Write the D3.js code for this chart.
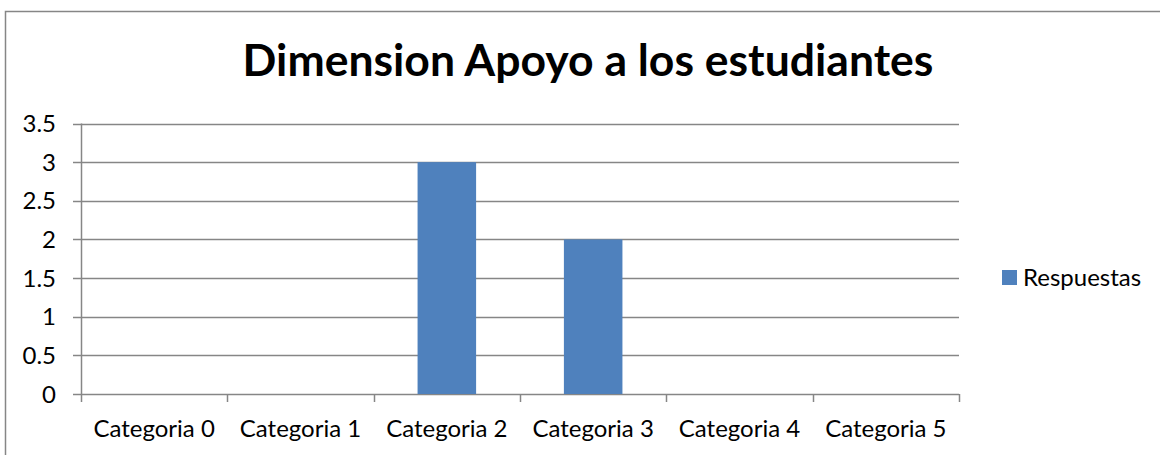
<!DOCTYPE html>
<html>
<head>
<meta charset="utf-8">
<script src="https://cdn.jsdelivr.net/npm/d3@7"></script>
<style>
  body { margin: 0; background: #fff; }
  text { font-family: Lato, "Open Sans", sans-serif; fill: #000; }
</style>
</head>
<body>
<script>
// chart data
var categories = ['Categoria 0', 'Categoria 1', 'Categoria 2', 'Categoria 3', 'Categoria 4', 'Categoria 5'];
var respuestas = [0, 0, 3, 2, 0, 0];
var yTicks = [0, 0.5, 1, 1.5, 2, 2.5, 3, 3.5];
var seriesName = 'Respuestas';

var width = 1160, height = 455;
var plot = { left: 81, right: 959, top: 123.5, bottom: 394 };
var gridColor = '#868686';
var barColor = '#4F81BD';

var svg = d3.select('body')
  .append('svg')
  .attr('width', width)
  .attr('height', height);

// outer chart border (only top and left visible in the shot)
svg.append('path')
  .attr('d', 'M5.5,' + height + 'V11.5H' + width)
  .attr('fill', 'none')
  .attr('stroke', gridColor)
  .attr('stroke-width', 1.5);

svg.append('text')
  .attr('x', 588)
  .attr('y', 76)
  .attr('text-anchor', 'middle')
  .style('font-size', '44.5px')
  .style('font-weight', 'bold')
  .text('Dimension Apoyo a los estudiantes');

var x = d3.scaleBand()
  .domain(categories)
  .range([plot.left, plot.right])
  .paddingInner(0.6)
  .paddingOuter(0.3);

var xEdge = d3.scaleLinear()
  .domain([0, categories.length])
  .range([plot.left, plot.right]);

var y = d3.scaleLinear()
  .domain([0, 3.5])
  .range([plot.bottom, plot.top]);

// gridlines
svg.append('g')
  .selectAll('line')
  .data(yTicks)
  .enter()
    .append('line')
    .attr('x1', plot.left - 8)
    .attr('x2', plot.right)
    .attr('y1', function(d) { return Math.round(y(d)) + 0.5; })
    .attr('y2', function(d) { return Math.round(y(d)) + 0.5; })
    .attr('stroke', gridColor)
    .attr('stroke-width', 1.5);

// bars
svg.append('g')
  .selectAll('rect')
  .data(respuestas)
  .enter()
    .append('rect')
    .attr('x', function(d, i) { return x(categories[i]); })
    .attr('width', x.bandwidth())
    .attr('y', function(d) { return y(d); })
    .attr('height', function(d) { return y(0) - y(d); })
    .attr('fill', barColor);

// y axis line
svg.append('line')
  .attr('x1', plot.left + 0.5)
  .attr('x2', plot.left + 0.5)
  .attr('y1', plot.top)
  .attr('y2', plot.bottom)
  .attr('stroke', gridColor)
  .attr('stroke-width', 1.5);

// x axis ticks at category edges
svg.append('g')
  .selectAll('line')
  .data(d3.range(categories.length + 1))
  .enter()
    .append('line')
    .attr('x1', function(d) { return Math.round(xEdge(d)) + 0.5; })
    .attr('x2', function(d) { return Math.round(xEdge(d)) + 0.5; })
    .attr('y1', plot.bottom)
    .attr('y2', plot.bottom + 8)
    .attr('stroke', gridColor)
    .attr('stroke-width', 1.5);

// y tick labels
svg.append('g')
  .selectAll('text')
  .data(yTicks)
  .enter()
    .append('text')
    .attr('x', 56)
    .attr('y', function(d) { return y(d) + 8.5; })
    .attr('text-anchor', 'end')
    .style('font-size', '24px')
    .text(function(d) { return d; });

// x tick labels
svg.append('g')
  .selectAll('text')
  .data(categories)
  .enter()
    .append('text')
    .attr('x', function(d) { return x(d) + x.bandwidth() / 2; })
    .attr('y', 437)
    .attr('text-anchor', 'middle')
    .style('font-size', '24px')
    .text(function(d) { return d; });

// legend
svg.append('rect')
  .attr('x', 1002)
  .attr('y', 270)
  .attr('width', 15)
  .attr('height', 15)
  .attr('fill', barColor);

svg.append('text')
  .attr('x', 1023)
  .attr('y', 286)
  .style('font-size', '24px')
  .text(seriesName);
</script>
</body>
</html>
